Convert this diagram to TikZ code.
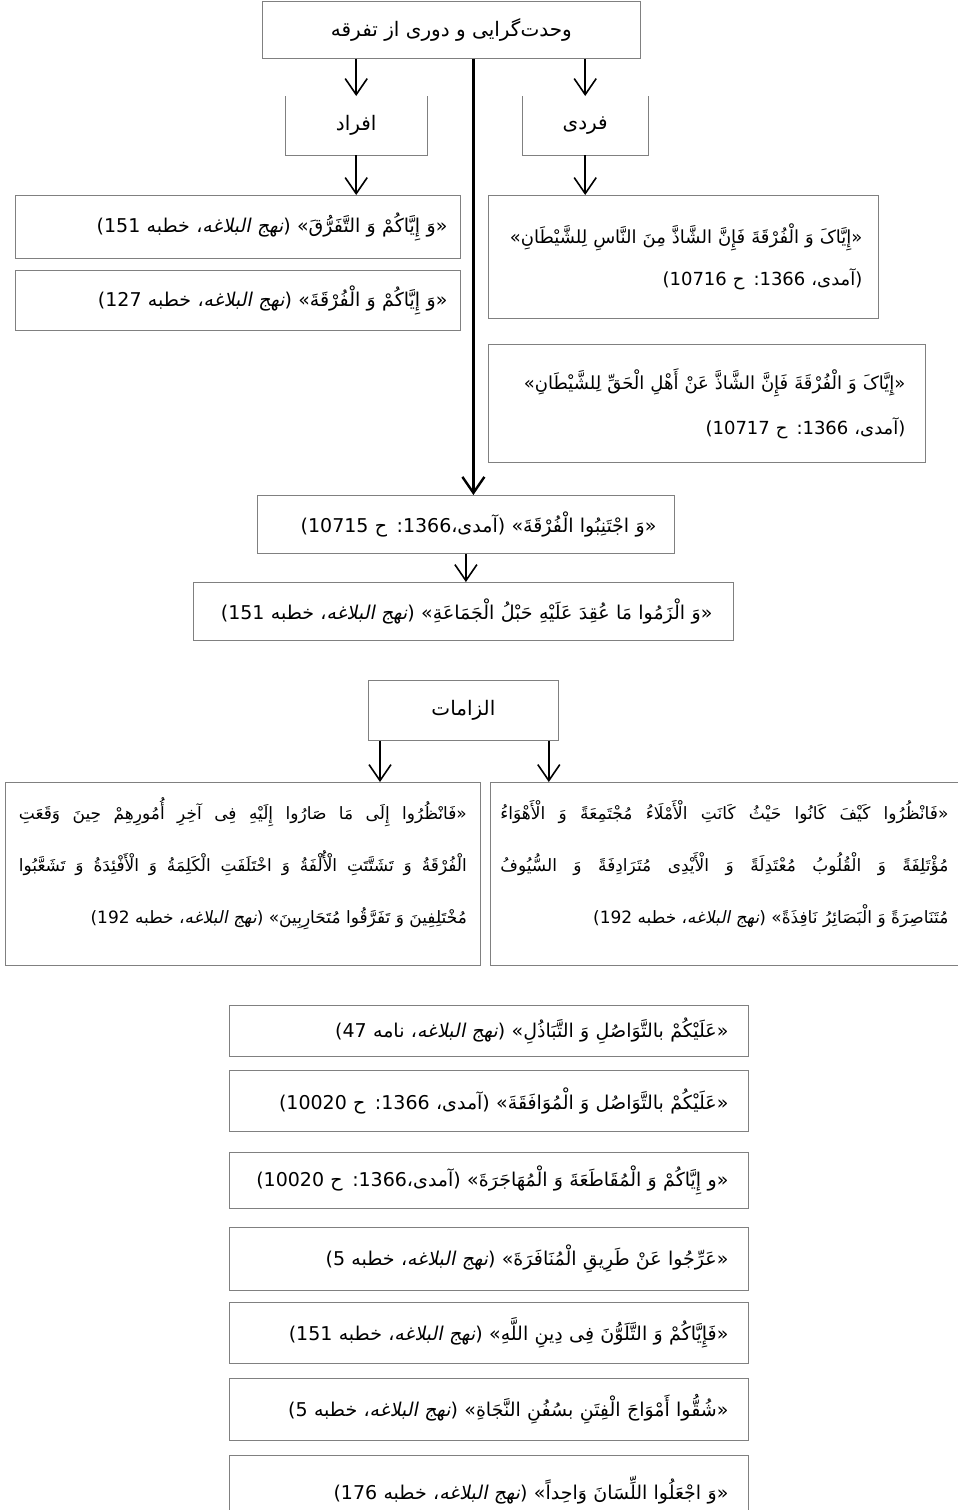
\documentclass[tikz,border=0pt]{standalone}
\usepackage{fontspec}
\usepackage{tikz}
\usetikzlibrary{arrows.meta,calc}
\TeXXeTstate=1
\setmainfont{DejaVu Sans}
\newfontfamily\arabicfont[Script=Arabic]{DejaVu Sans}
\newfontfamily\arabicslant[Script=Arabic,FakeSlant=0.2]{DejaVu Sans}
\newcommand{\ar}[1]{{\arabicfont\beginR #1\endR}}
\newcommand{\lnum}[1]{\beginL #1\endL}
\newcommand{\nahj}{{\arabicslant نهج البلاغه}}
\newcommand{\jline}[1]{\hbox to\hsize{\arabicfont #1}}
\newcommand{\lline}[1]{\hbox to\hsize{\arabicfont\hfill #1}}
\newcommand{\stanza}[3]{\vbox{\hsize=448pt\jline{#1}\jline{#2}\lline{#3}\kern20pt}}
\newcommand{\fs}{\fontsize{19}{24}\selectfont}

\begin{document}
\begin{tikzpicture}[x=1pt,y=-1pt,>={Straight Barb[length=16pt,width=22pt]}]
\tikzset{
  frame/.style={draw=black!50, line width=0.8pt, anchor=north west, inner sep=0pt, font=\fs},
  quote/.style={frame, align=right, inner xsep=18pt},
  arr/.style={->, line width=1.6pt},
}
\clip (0,0) rectangle (958,1510);
% title and the two branches
\node[frame, minimum width=378pt, minimum height=57pt, font=\fontsize{20}{24}\selectfont] (top) at (262,1) {\ar{وحدت^^^^200cگرایی و دوری از تفرقه}};
\node[anchor=north west, minimum width=142pt, minimum height=59pt, inner sep=0pt, font=\fontsize{20}{24}\selectfont] (afrad) at (285,96) {\ar{افراد}};
\node[anchor=north west, minimum width=126pt, minimum height=59pt, inner sep=0pt, font=\fontsize{20}{24}\selectfont] (fardi) at (522,96) {\ar{فردی}};
\foreach \n in {afrad,fardi}{\draw[draw=black!50, line width=0.8pt] (\n.north west) -- (\n.south west) -- (\n.south east) -- (\n.north east);}
\node[quote, text width=419pt, minimum height=63pt, inner xsep=13pt] (q151) at (15,195) {\ar{«وَ إِیَّاکُمْ وَ التَّفَرُّقَ» (\nahj، خطبه \lnum{151})}};
\node[quote, text width=419pt, minimum height=60pt, inner xsep=13pt] (q127) at (15,270) {\ar{«وَ إِیَّاکُمْ وَ الْفُرْقَةَ» (\nahj، خطبه \lnum{127})}};
\node[quote, text width=358pt, minimum height=123pt, inner xsep=16pt, font=\fontsize{18}{42}\selectfont] (h16) at (488,195) {\ar{«إِیَّاکَ وَ الْفُرْقَةَ فَإِنَّ الشَّاذَّ مِنَ النَّاسِ لِلشَّیْطَانِ»}\\ \ar{(آمدی، \lnum{1366}: ح \lnum{10716})}};
\node[quote, text width=397pt, minimum height=118pt, inner xsep=20pt, font=\fontsize{18}{45}\selectfont] (h17) at (488,344) {\ar{«إِیَّاکَ وَ الْفُرْقَةَ فَإِنَّ الشَّاذَّ عَنْ أَهْلِ الْحَقِّ لِلشَّیْطَانِ»}\\ \ar{(آمدی، \lnum{1366}: ح \lnum{10717})}};
\node[quote, text width=381pt, minimum height=58pt] (jt) at (257,495) {\ar{«وَ اجْتَنِبُوا الْفُرْقَةَ» (آمدی،\lnum{1366}: ح \lnum{10715})}};
\node[quote, text width=498pt, minimum height=58pt, inner xsep=21pt] (lzm) at (193,582) {\ar{«وَ الْزَمُوا مَا عُقِدَ عَلَیْهِ حَبْلُ الْجَمَاعَةِ» (\nahj، خطبه \lnum{151})}};
\draw[arr] (top.south -| afrad) -- (afrad.north);
\draw[arr] (top.south -| fardi) -- (fardi.north);
\draw[arr] (afrad.south) -- (afrad.south |- q151.north);
\draw[arr] (fardi.south) -- (fardi.south |- h16.north);
\draw[->, line width=2.4pt] ([xshift=22pt]top.south) -- ([xshift=22pt]top.south |- jt.north);
\draw[arr] (jt.south) -- (jt.south |- lzm.north);
% obligations
\node[frame, minimum width=190pt, minimum height=60pt, font=\fontsize{20}{24}\selectfont] (elz) at (368,680) {\ar{الزامات}};
\node[frame, minimum width=475pt, minimum height=183pt, font=\fontsize{17}{52}\selectfont] (nzL) at (5,782) {\stanza
  {\beginR «فَانْظُرُوا إِلَی مَا صَارُوا إِلَیْهِ فِی آخِرِ أُمُورِهِمْ حِینَ وَقَعَتِ\endR}
  {\beginR الْفُرْقَةُ وَ تَشَتَّتَتِ الْأُلْفَةُ وَ اخْتَلَفَتِ الْکَلِمَةُ وَ الْأَفْئِدَةُ وَ تَشَعَّبُوا\endR}
  {\beginR مُخْتَلِفِینَ وَ تَفَرَّقُوا مُتَحَارِبِینَ» (\nahj، خطبه \lnum{192})\endR}};
\node[frame, minimum width=468pt, minimum height=183pt, font=\fontsize{17}{52}\selectfont] (nzR) at (490,782) {\stanza
  {\beginR «فَانْظُرُوا کَیْفَ کَانُوا حَیْثُ کَانَتِ الْأَمْلَاءُ مُجْتَمِعَةً وَ الْأَهْوَاءُ\endR}
  {\beginR مُؤْتَلِفَةً وَ الْقُلُوبُ مُعْتَدِلَةً وَ الْأَیْدِی مُتَرَادِفَةً وَ السُّیُوفُ\endR}
  {\beginR مُتَنَاصِرَةً وَ الْبَصَائِرُ نَافِذَةً» (\nahj، خطبه \lnum{192})\endR}};
\draw[arr] ([xshift=12pt]elz.south west) -- ([xshift=12pt]elz.south west |- nzL.north);
\draw[arr] ([xshift=-10pt]elz.south east) -- ([xshift=-10pt]elz.south east |- nzR.north);
% sayings
\foreach \y/\h/\t [count=\i] in {
  1005/51/{«عَلَیْکُمْ بالتَّوَاصُلِ وَ التَّبَاذُلِ» (\nahj، نامه \lnum{47})},
  1070/61/{«عَلَیْکُمْ بالتَّوَاصُل وَ الْمُوَافَقَةَ» (آمدی، \lnum{1366}: ح \lnum{10020})},
  1152/56/{«و إِیَّاکُمْ وَ الْمُقَاطَعَةَ وَ الْمُهَاجَرَةَ» (آمدی،\lnum{1366}: ح \lnum{10020})},
  1227/63/{«عَرِّجُوا عَنْ طَرِیقِ الْمُنَافَرَةَ» (\nahj، خطبه \lnum{5})},
  1302/61/{«فَإِیَّاکُمْ وَ التَّلَوُّنَ فِی دِینِ اللَّهِ» (\nahj، خطبه \lnum{151})},
  1378/62/{«شُقُّوا أَمْوَاجَ الْفِتَنِ بسُفُنِ النَّجَاةِ» (\nahj، خطبه \lnum{5})},
  1455/70/{«وَ اجْعَلُوا اللِّسَانَ وَاحِداً»  (\nahj، خطبه \lnum{176})}}
  {\node[quote, text width=479pt, minimum height=\h pt, inner xsep=20pt] (say\i) at (229,\y) {\ar{\t}};}
\end{tikzpicture}
\end{document}
